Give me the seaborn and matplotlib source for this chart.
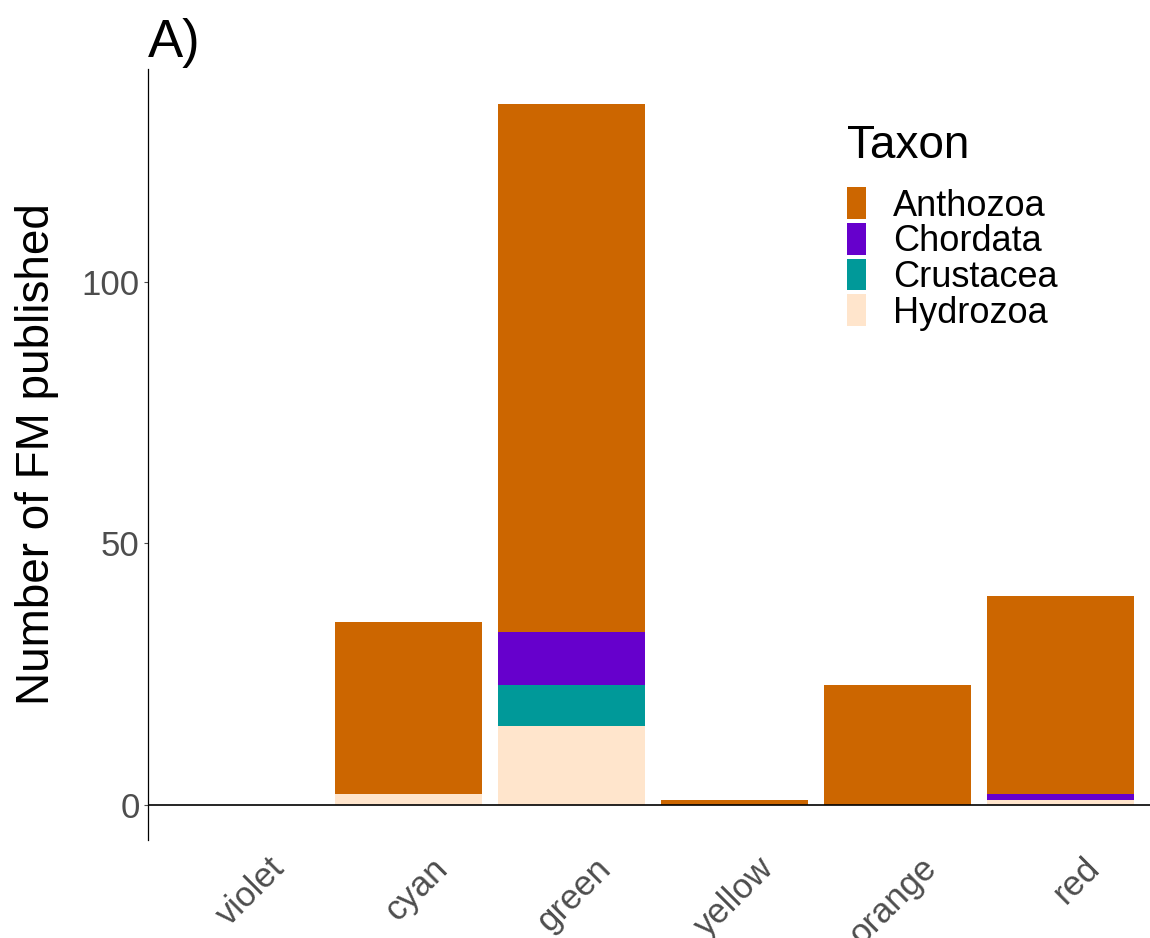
import pandas as pd
import matplotlib
matplotlib.use("Agg")
import matplotlib.pyplot as plt
import matplotlib.transforms as mtransforms
from matplotlib.patches import Patch
import seaborn as sns

# %%
colours = ["violet", "cyan", "green", "yellow", "orange", "red"]
taxa = ["Anthozoa", "Chordata", "Crustacea", "Hydrozoa"]
taxon_colors = ["#CC6600", "#6600CC", "#009999", "#FFE5CC"]

# counts per colour, one list per taxon
anthozoa = [0, 33, 101, 1, 23, 38]
chordata = [0, 0, 10, 0, 0, 1]
crustacea = [0, 0, 8, 0, 0, 0]
hydrozoa = [0, 2, 15, 0, 0, 1]

# %%
rows = []
for taxon, counts in zip(taxa, [anthozoa, chordata, crustacea, hydrozoa]):
    for col, n in zip(colours, counts):
        rows.append({"colour": col, "Taxon": taxon, "n": n})
df = pd.DataFrame(rows)
df["colour"] = pd.Categorical(df["colour"], categories=colours, ordered=True)
df = df.sort_values("colour").reset_index(drop=True)
df["colour"] = df["colour"].astype(str)

# %%
sns.set_style("white")
plt.rcParams["font.family"] = ["Liberation Sans", "DejaVu Sans"]
plt.rcParams["text.color"] = "black"

fig = plt.figure(figsize=(11.5, 9.38), dpi=100)
ax = fig.add_axes([148 / 1150, 1 - 840 / 938, 1010 / 1150, 771 / 938])

# stacked bars, Hydrozoa at the bottom like the ggplot original
sns.histplot(data=df, x="colour", weights="n", hue="Taxon", hue_order=taxa,
             palette=taxon_colors, multiple="stack", discrete=True, shrink=0.9,
             alpha=1, linewidth=0, legend=False, ax=ax)

ax.axhline(0, color="black", linewidth=1.2, zorder=3)
ax.set_xlim(-0.6, len(colours) - 0.4)
ax.set_ylim(-6.7, 140.7)
ax.set_yticks([0, 50, 100])
ax.set_xticks(range(len(colours)))
ax.set_xticklabels(colours)

for s in ["top", "right", "bottom"]:
    ax.spines[s].set_visible(False)
ax.spines["left"].set_color("black")
ax.spines["left"].set_linewidth(0.9)

ax.tick_params(axis="y", length=3, width=0.8, color="#4D4D4D",
               labelsize=25, labelcolor="#4D4D4D", pad=3, left=True)
ax.tick_params(axis="x", length=0, labelsize=25, labelcolor="#4D4D4D", pad=0)

off = mtransforms.ScaledTranslation(0.34, -0.23, fig.dpi_scale_trans)
for lab in ax.get_xticklabels():
    lab.set_rotation(45)
    lab.set_ha("right")
    lab.set_va("center")
    lab.set_rotation_mode("anchor")
    lab.set_transform(lab.get_transform() + off)

ax.set_xlabel("")
ax.set_ylabel("Number of FM published", fontsize=33, color="black", labelpad=16)
ax.text(0.0, 1 + 12 / 771, "A)", transform=ax.transAxes, fontsize=38,
        ha="left", va="baseline", color="black")

handles = [Patch(facecolor=c, edgecolor="none") for c in taxon_colors]
leg = ax.legend(handles, taxa, title="Taxon", loc="upper left",
                bbox_to_anchor=(847 / 1150, 1 - 124 / 938), bbox_transform=fig.transFigure,
                frameon=False, fontsize=26, title_fontsize=33,
                handlelength=0.52, handleheight=0.98, handletextpad=0.76,
                labelspacing=-0.02, borderaxespad=0, borderpad=0)
leg._legend_box.align = "left"
leg._legend_box.sep = 14
for t in leg.get_texts():
    t.set_color("black")
leg.get_title().set_color("black")

fig.savefig("out.png", dpi=100)
